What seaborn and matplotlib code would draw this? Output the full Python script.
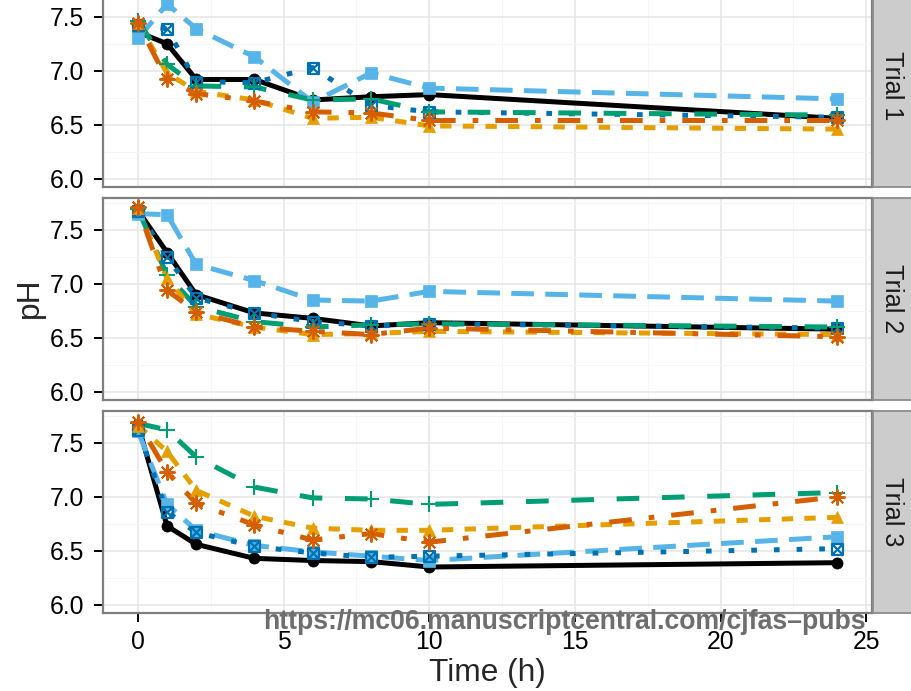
import matplotlib
matplotlib.use("Agg")
import matplotlib.pyplot as plt
import numpy as np
import pandas as pd
import seaborn as sns
from matplotlib.path import Path

# ---------------------------------------------------------------- data
times = [0, 1, 2, 4, 6, 8, 10, 24]
trials = ["Trial 1", "Trial 2", "Trial 3"]
series = ["A", "B", "C", "D", "E", "F"]

a_trial1 = [7.36, 7.25, 6.92, 6.92, 6.73, 6.76, 6.78, 6.56]
b_trial1 = [7.30, 7.62, 7.39, 7.13, 6.71, 6.98, 6.84, 6.74]
c_trial1 = [7.42, 7.39, 6.90, 6.89, 7.03, 6.68, 6.62, 6.57]
d_trial1 = [7.46, 7.06, 6.86, 6.85, 6.73, 6.74, 6.62, 6.59]
e_trial1 = [7.44, 6.98, 6.81, 6.73, 6.56, 6.57, 6.49, 6.46]
f_trial1 = [7.44, 6.92, 6.79, 6.72, 6.62, 6.61, 6.54, 6.54]

a_trial2 = [7.68, 7.29, 6.90, 6.73, 6.68, 6.61, 6.64, 6.58]
b_trial2 = [7.65, 7.64, 7.18, 7.03, 6.85, 6.84, 6.93, 6.84]
c_trial2 = [7.67, 7.25, 6.87, 6.73, 6.65, 6.61, 6.63, 6.59]
d_trial2 = [7.69, 7.08, 6.79, 6.65, 6.60, 6.62, 6.63, 6.60]
e_trial2 = [7.70, 7.05, 6.72, 6.60, 6.53, 6.54, 6.56, 6.53]
f_trial2 = [7.71, 6.94, 6.74, 6.60, 6.56, 6.53, 6.59, 6.51]

a_trial3 = [7.67, 6.73, 6.56, 6.43, 6.41, 6.40, 6.35, 6.39]
b_trial3 = [7.61, 6.93, 6.69, 6.55, 6.49, 6.45, 6.41, 6.63]
c_trial3 = [7.62, 6.86, 6.67, 6.54, 6.48, 6.44, 6.45, 6.52]
d_trial3 = [7.68, 7.62, 7.37, 7.09, 6.99, 6.98, 6.93, 7.04]
e_trial3 = [7.66, 7.42, 7.06, 6.82, 6.71, 6.69, 6.69, 6.81]
f_trial3 = [7.69, 7.23, 6.94, 6.74, 6.60, 6.66, 6.58, 7.00]

values = {
    ("Trial 1", "A"): a_trial1, ("Trial 1", "B"): b_trial1, ("Trial 1", "C"): c_trial1,
    ("Trial 1", "D"): d_trial1, ("Trial 1", "E"): e_trial1, ("Trial 1", "F"): f_trial1,
    ("Trial 2", "A"): a_trial2, ("Trial 2", "B"): b_trial2, ("Trial 2", "C"): c_trial2,
    ("Trial 2", "D"): d_trial2, ("Trial 2", "E"): e_trial2, ("Trial 2", "F"): f_trial2,
    ("Trial 3", "A"): a_trial3, ("Trial 3", "B"): b_trial3, ("Trial 3", "C"): c_trial3,
    ("Trial 3", "D"): d_trial3, ("Trial 3", "E"): e_trial3, ("Trial 3", "F"): f_trial3,
}
rows = []
for (trial, s), ys in values.items():
    for t, y in zip(times, ys):
        rows.append({"Trial": trial, "Series": s, "Time": t, "pH": y})
df = pd.DataFrame(rows)

# ---------------------------------------------------------------- styles
sns.set_style("white")
plt.rcParams["font.family"] = ["Liberation Sans", "DejaVu Sans"]
plt.rcParams["lines.scale_dashes"] = False

colors = {"A": "#000000", "B": "#56B4E9", "C": "#0072B2",
          "D": "#009E73", "E": "#E69F00", "F": "#D55E00"}
u = 4.08  # dash unit in points
linestyles = {
    "A": "-",
    "B": (0, (4 * u, 2 * u)),
    "C": (0, (1 * u, 3 * u)),
    "D": (0, (4 * u, 4 * u)),
    "E": (0, (2 * u, 2 * u)),
    "F": (0, (1 * u, 3 * u, 4 * u, 3 * u)),
}
square_cross = Path(
    [(-1, -1), (1, -1), (1, 1), (-1, 1), (-1, -1),
     (-1, -1), (1, 1), (-1, 1), (1, -1)],
    [Path.MOVETO, Path.LINETO, Path.LINETO, Path.LINETO, Path.CLOSEPOLY,
     Path.MOVETO, Path.LINETO, Path.MOVETO, Path.LINETO],
)
# marker, size (pt), filled, edge width (pt)
markers = {
    "A": ("o", 8.0, True, 0.5),
    "B": ("s", 8.2, True, 0.5),
    "C": (square_cross, 7.9, False, 1.6),
    "D": ("+", 11.5, False, 1.5),
    "E": ("^", 9.2, True, 0.5),
    "F": ((8, 2, 0), 11.5, False, 1.4),
}

W, H = 912, 691
fig = plt.figure(figsize=(W / 100, H / 100), dpi=100)


def fx(px):
    return px / W


def fy(py):
    return 1 - py / H


panel_rows = [(-15, 187), (198, 400), (411, 613)]
x_left, x_right = 103, 872
border = "#7F7F7F"

for i, (trial, (top, bottom)) in enumerate(zip(trials, panel_rows)):
    ax = fig.add_axes([fx(x_left), fy(bottom), (x_right - x_left) / W, (bottom - top) / H])
    ax.set_facecolor("white")
    sub = df[df["Trial"] == trial]

    for s in series:
        sns.lineplot(data=sub[sub["Series"] == s], x="Time", y="pH", ax=ax,
                     color=colors[s], linestyle=linestyles[s], linewidth=3.6,
                     errorbar=None, legend=False, zorder=2)
    for s in series:
        m, ms, filled, mew = markers[s]
        sns.lineplot(data=sub[sub["Series"] == s], x="Time", y="pH", ax=ax,
                     color=colors[s], linestyle="none", marker=m, markersize=ms,
                     markerfacecolor=colors[s] if filled else "none",
                     markeredgecolor=colors[s], markeredgewidth=mew,
                     errorbar=None, legend=False, zorder=3)

    ax.set_xlim(-1.2, 25.2)
    ax.set_ylim(5.924, 7.795)
    ax.set_xticks([0, 5, 10, 15, 20, 25])
    ax.set_xticks([2.5, 7.5, 12.5, 17.5, 22.5], minor=True)
    ax.set_yticks([6.0, 6.5, 7.0, 7.5])
    ax.set_yticklabels(["6.0", "6.5", "7.0", "7.5"])
    ax.set_yticks([6.25, 6.75, 7.25, 7.75], minor=True)
    ax.set_axisbelow(True)
    ax.grid(which="major", color="#E5E5E5", linewidth=1.1)
    ax.grid(which="minor", color="#F6F6F6", linewidth=0.7)
    ax.set_xlabel("")
    ax.set_ylabel("")
    for sp in ax.spines.values():
        sp.set_color(border)
        sp.set_linewidth(1.6)
        sp.set_visible(True)
    ax.tick_params(axis="y", which="major", left=True, length=6.5, width=1.4,
                   color="black", labelsize=17.8, pad=7, labelcolor="black")
    ax.tick_params(axis="both", which="minor", length=0)
    if i < 2:
        ax.tick_params(axis="x", which="both", bottom=False, labelbottom=False)
    else:
        ax.tick_params(axis="x", which="major", bottom=True, length=6.5, width=1.4,
                       color="black", labelsize=17.8, pad=6, labelcolor="black")

    # facet strip on the right
    sax = fig.add_axes([fx(873), fy(bottom), 42 / W, (bottom - top) / H])
    sax.set_facecolor("#CCCCCC")
    sax.set_xticks([])
    sax.set_yticks([])
    for sp in sax.spines.values():
        sp.set_color("#8C8C8C")
        sp.set_linewidth(1.3)
    fig.text(fx(892), fy((top + bottom) / 2), trial, rotation=270,
             ha="center", va="center", fontsize=18.1, color="#1A1A1A")

fig.text(fx(30), fy(298), "pH", rotation=90, ha="center", va="center", fontsize=22.8)
fig.text(fx(487.5), fy(673), "Time (h)", ha="center", va="center", fontsize=22.8)

wm = fig.text(fx(263), fy(629), "https://mc06.manuscriptcentral.com/cjfas\u2013pubs",
              ha="left", va="baseline", fontsize=23, fontweight="bold",
              color="#6E6E6E", family=["Liberation Sans Narrow", "Liberation Sans"])
renderer = fig.canvas.get_renderer()
w = wm.get_window_extent(renderer).width
wm.set_fontsize(23 * 603 / w)

fig.savefig("out.png", dpi=100)
